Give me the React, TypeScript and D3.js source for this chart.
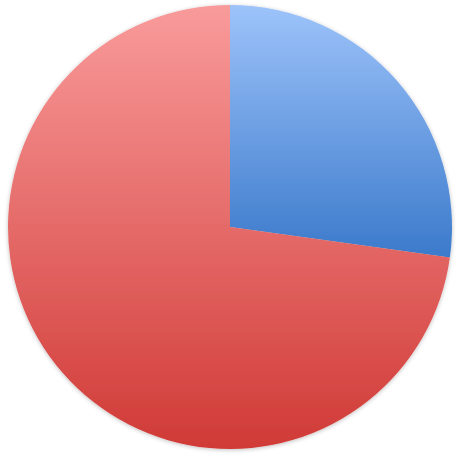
import * as d3 from "d3";

const labels = ["Blue", "Red"];
const values = [27.2, 72.8];
const topColors = ["#9dc3fa", "#f99b9b"];
const bottomColors = ["#3b7acb", "#d03a36"];

function App() {
	const size = 461;
	const cx = 230;
	const cy = 227;
	const radius = 222;

	const pie = d3
		.pie<number>()
		.sort(null)
		.value((d) => d);
	const arc = d3
		.arc<d3.PieArcDatum<number>>()
		.innerRadius(0)
		.outerRadius(radius);
	const arcs = pie(values);

	return (
		<svg
			width={size}
			height={size}
			style={{ position: "absolute", left: 0, top: 0, background: "white" }}
		>
			<defs>
				{labels.map((l, i) => (
					<linearGradient key={l} id={"grad-" + i} x1="0" y1="0" x2="0" y2="1">
						<stop offset="0%" stopColor={topColors[i]} />
						<stop offset="100%" stopColor={bottomColors[i]} />
					</linearGradient>
				))}
				<filter id="soft" x="-10%" y="-10%" width="120%" height="120%">
					<feGaussianBlur in="SourceAlpha" stdDeviation="2" />
					<feOffset dx="0" dy="1" result="blur" />
					<feFlood floodColor="#000" floodOpacity="0.25" />
					<feComposite in2="blur" operator="in" />
					<feMerge>
						<feMergeNode />
						<feMergeNode in="SourceGraphic" />
					</feMerge>
				</filter>
			</defs>
			<g transform={"translate(" + cx + "," + cy + ")"} filter="url(#soft)">
				{arcs.map((d, i) => (
					<path key={labels[i]} d={arc(d) || ""} fill={"url(#grad-" + i + ")"} />
				))}
			</g>
		</svg>
	);
}

export default App;
